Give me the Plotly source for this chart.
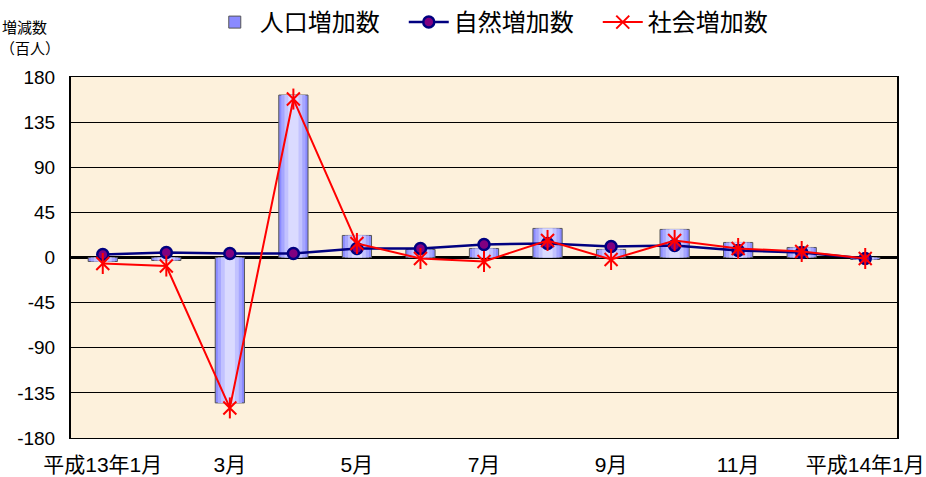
import plotly.graph_objects as go

months = ["平成13年1月", "2月", "3月", "4月", "5月", "6月", "7月", "8月", "9月", "10月", "11月", "12月", "平成14年1月"]
tick_labels = ["平成13年1月", "3月", "5月", "7月", "9月", "11月", "平成14年1月"]
population = [-4, -3, -145, 162, 22, 8, 9, 29, 8, 28, 15, 10, -2]
natural = [3, 5, 4, 4, 9, 9, 13, 14, 11, 12, 7, 5, -1]
social = [-6, -8.5, -150, 158, 14, -1, -4, 17, -2, 17, 9, 6, -1]
y_ticks = [-180, -135, -90, -45, 0, 45, 90, 135, 180]

xs = list(range(len(months)))
font_family = "Liberation Sans, Noto Sans CJK JP, sans-serif"

fig = go.Figure()

# gradient-like bars: layered
layers = [(0.46, "#8a8aff", 1), (0.38, "#a6a6ff", 0), (0.28, "#c2c2ff", 0), (0.16, "#dadaff", 0)]
for i, (w, c, lw) in enumerate(layers):
    fig.add_trace(go.Bar(
        x=xs, y=population, width=w, name="人口増加数",
        marker=dict(color=c, line=dict(color="#555555", width=lw)),
        showlegend=(i == 0), legendgroup="pop",
    ))

fig.add_trace(go.Scatter(
    x=xs, y=natural, name="自然増加数", mode="lines+markers",
    line=dict(color="#000080", width=2.5),
    marker=dict(symbol="circle", size=11, color="#800080", line=dict(color="#000080", width=2.5)),
))
fig.add_trace(go.Scatter(
    x=xs, y=social, name="社会増加数", mode="lines+markers",
    line=dict(color="#ff0000", width=2),
    marker=dict(symbol="x-thin-open", size=13, color="#ff0000", line=dict(color="#ff0000", width=2)),
    legendgroup="soc",
))
fig.add_trace(go.Scatter(
    x=xs, y=social, mode="markers", showlegend=False, legendgroup="soc",
    marker=dict(symbol="line-ns-open", size=15, color="#ff0000", line=dict(color="#ff0000", width=2)),
    hoverinfo="skip",
))

fig.update_layout(
    width=926, height=477,
    margin=dict(l=71, r=29, t=77, b=39),
    barmode="overlay",
    paper_bgcolor="white",
    plot_bgcolor="#fdf1dc",
    font=dict(family=font_family, size=15, color="black"),
    legend=dict(orientation="h", x=0.168, xanchor="left", y=1.0, yref="container", yanchor="top",
                font=dict(size=24), bgcolor="rgba(0,0,0,0)", itemwidth=40, tracegroupgap=0,
                entrywidth=139, entrywidthmode="pixels"),
    xaxis=dict(range=[-0.5, 12.5], tickmode="array", tickvals=[0, 2, 4, 6, 8, 10, 12], ticktext=tick_labels,
               showgrid=False, zeroline=False, showline=True, linecolor="black", linewidth=1, mirror=True,
               ticks="", tickfont=dict(size=21), ticklabelstandoff=8, automargin=False,
               ticklabeloverflow="allow"),
    yaxis=dict(range=[-180, 180], tickmode="array", tickvals=y_ticks, ticktext=[str(v) for v in y_ticks],
               showgrid=True, gridcolor="black", gridwidth=1,
               zeroline=True, zerolinecolor="black", zerolinewidth=2.5,
               showline=True, linecolor="black", linewidth=2, mirror=True,
               ticks="inside", ticklen=7, tickcolor="black", tickfont=dict(size=19), ticklabelstandoff=10,
               automargin=False),
    annotations=[
        dict(text="増減数", xref="paper", yref="paper", x=-0.0557, y=1.1385,
             xanchor="center", yanchor="middle", showarrow=False, font=dict(size=15)),
        dict(text="（百人）", xref="paper", yref="paper", x=-0.0496, y=1.0776,
             xanchor="center", yanchor="middle", showarrow=False, font=dict(size=15)),
    ],
)

fig.write_html("out.html", config={"displayModeBar": False},
               post_script="document.body.style.margin='0';document.body.style.overflow='hidden';")
